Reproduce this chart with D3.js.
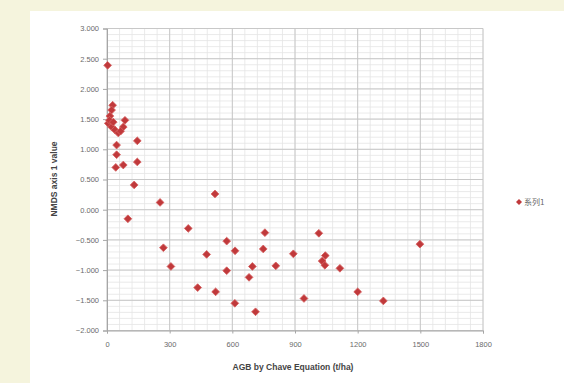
<!DOCTYPE html>
<html><head><meta charset="utf-8">
<script src="https://cdn.jsdelivr.net/npm/d3@7"></script>
<style>body{margin:0;padding:0;overflow:hidden}svg{display:block}</style>
</head><body>
<script>
const agb = [3,27,22,14,6,22,38,54,86,78,12,30,65,46,46,42,78,145,145,130,254,100,517,389,270,573,756,613,748,892,477,306,573,696,808,680,434,520,612,711,1014,1045,1030,1498,1043,1115,1200,1323,943];
const nmds = [2.39,1.73,1.65,1.55,1.43,1.37,1.32,1.27,1.48,1.37,1.48,1.45,1.30,1.07,0.91,0.70,0.74,1.14,0.79,0.41,0.12,-0.15,0.26,-0.31,-0.63,-0.52,-0.38,-0.68,-0.65,-0.73,-0.74,-0.94,-1.01,-0.94,-0.93,-1.12,-1.29,-1.36,-1.55,-1.69,-0.39,-0.76,-0.85,-0.57,-0.92,-0.97,-1.36,-1.51,-1.47];
const xTicks = [0,300,600,900,1200,1500,1800];
const yTicks = [3,2.5,2,1.5,1,0.5,0,-0.5,-1,-1.5,-2];
const seriesName = "系列1";
const xTitle = "AGB by Chave Equation (t/ha)";
const yTitle = "NMDS axis 1 value";

const W=564,H=383;
const svg=d3.select("body").append("svg").attr("width",W).attr("height",H);
svg.append("rect").attr("width",W).attr("height",H).attr("fill","#f5f4dd");
svg.append("rect").attr("x",30).attr("y",11).attr("width",W-30).attr("height",H-11).attr("fill","#ffffff");

const x=d3.scaleLinear().domain([0,1800]).range([107,483]);
const y=d3.scaleLinear().domain([-2,3]).range([330.5,28.5]);

const g=svg.append("g");
const xMinor=d3.range(0,1801,60), yMinor=d3.range(-20,31,1).map(v=>v/10);
g.selectAll(".vmin").data(xMinor).enter().append("line")
 .attr("x1",d=>x(d)).attr("x2",d=>x(d)).attr("y1",y(3)).attr("y2",y(-2))
 .attr("stroke","#e4e4e4").attr("stroke-width",0.8);
g.selectAll(".hmin").data(yMinor).enter().append("line")
 .attr("y1",d=>y(d)).attr("y2",d=>y(d)).attr("x1",x(0)).attr("x2",x(1800))
 .attr("stroke","#e4e4e4").attr("stroke-width",0.8);
g.selectAll(".vmaj").data(xTicks).enter().append("line")
 .attr("x1",d=>x(d)).attr("x2",d=>x(d)).attr("y1",y(3)).attr("y2",y(-2))
 .attr("stroke","#c4c4c4").attr("stroke-width",0.9);
g.selectAll(".hmaj").data(yTicks).enter().append("line")
 .attr("y1",d=>y(d)).attr("y2",d=>y(d)).attr("x1",x(0)).attr("x2",x(1800))
 .attr("stroke","#c4c4c4").attr("stroke-width",0.9);

const yAxis=d3.axisLeft(y).tickValues(yTicks).tickFormat(d3.format(".3f")).tickSize(4).tickPadding(4);
const ya=svg.append("g").attr("transform",`translate(${x(0)},0)`).call(yAxis);
const xAxis=d3.axisBottom(x).tickValues(xTicks).tickFormat(d3.format("d")).tickSize(3).tickPadding(8);
const xa=svg.append("g").attr("transform",`translate(0,${y(-2)})`).call(xAxis);
[ya,xa].forEach(a=>{
  a.select(".domain").attr("stroke","#a6a6a6");
  a.selectAll(".tick line").attr("stroke","#a6a6a6");
  a.selectAll("text").attr("fill","#6a6a6a").attr("font-family","Liberation Sans, Arial, sans-serif").attr("font-size",7.5);
});

const diamond=d3.symbol().type(d3.symbolSquare).size(30);
svg.append("g").selectAll("path").data(agb.map((v,i)=>[v,nmds[i]])).enter().append("path")
 .attr("d",diamond).attr("transform",d=>`translate(${x(d[0])},${y(d[1])}) rotate(45)`)
 .attr("fill","#c0393b").attr("stroke","#d66060").attr("stroke-width",0.8);

svg.append("text").attr("x",293).attr("y",370).attr("text-anchor","middle")
 .attr("font-family","Liberation Sans, Arial, sans-serif").attr("font-size",8.5).attr("font-weight","bold").attr("fill","#444").text(xTitle);
svg.append("text").attr("transform","translate(57,179) rotate(-90)").attr("text-anchor","middle")
 .attr("font-family","Liberation Sans, Arial, sans-serif").attr("font-size",8.5).attr("font-weight","bold").attr("fill","#444").text(yTitle);

svg.append("path").attr("d",d3.symbol().type(d3.symbolSquare).size(18)).attr("transform","translate(519,202) rotate(45)").attr("fill","#c0393b");
svg.append("text").attr("x",524).attr("y",205).attr("font-family","Noto Sans CJK SC, sans-serif").attr("font-size",8).attr("fill","#666").text(seriesName);
</script>
</body></html>
